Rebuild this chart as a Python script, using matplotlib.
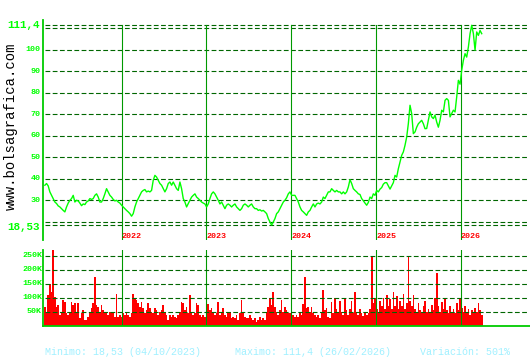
import matplotlib
matplotlib.use("Agg")
import matplotlib.pyplot as plt
import matplotlib.transforms as mtransforms
import pandas as pd
import numpy as np

# ---------------- data ----------------
price = [
    37, 37.8, 36.7, 33.9, 32.3, 30.8, 29.2, 28.5, 27.4, 26.9, 26.1, 25.3, 24.6, 26.9, 28.7, 30,
    30.8, 32.3, 29.2, 30, 29.7, 28.7, 27.5, 28.3, 28, 29.2, 29.7, 30.8, 30.4, 30.8, 32.3, 33,
    31.5, 29.2, 29.2, 30.8, 33, 35.4, 33.9, 32.3, 31.5, 30.4, 29.7, 30, 29.2, 28.7, 27.7, 26.9,
    26.1, 25.3, 24.6, 23.8, 22.6, 23.8, 26.9, 29.2, 30.8, 32.3, 33.9, 34.6, 35, 33.9, 34.3, 33.9,
    34.6, 39.3, 41.6, 40.8, 39.3, 37.8, 37, 35.4, 33.9, 35.4, 37.8, 38.5, 37, 38.5, 37, 35.4,
    34.6, 38.5, 35.4, 30.8, 29.2, 26.9, 28.5, 30, 31.5, 32.3, 33, 31.5, 30.8, 30, 29.2, 28.7,
    28.3, 26.9, 28.3, 30.8, 33, 33.9, 33, 31.5, 30, 28.3, 29.2, 27.7, 26.1, 27.7, 28.3, 27.7,
    26.9, 27.7, 28.3, 26.9, 26.1, 25.3, 26.1, 27.7, 28.3, 27.7, 26.9, 27.7, 28.3, 26.9, 26.1,
    26.1, 25.3, 25.6, 25, 25.3, 24.6, 23.8, 21.5, 19.9, 18.53, 19.9, 21.5, 23.8, 24.6, 26.1, 27.7,
    29.2, 30, 31.2, 33, 33.9, 32.3, 32.3, 32.3, 30.8, 29.2, 26.9, 25.3, 24.6, 23.8, 23, 24.6,
    25.3, 26.9, 28.3, 26.9, 28.3, 28.7, 28.3, 29.2, 31.5, 30.8, 32.3, 33.9, 33.9, 35.4, 34.6, 33.9,
    34.6, 33.9, 33.9, 33, 33.9, 33, 33.9, 36.2, 39.6, 37.8, 35.4, 34.6, 33.9, 33, 32.7,
    30.8, 29.8, 28.7, 27.7, 29, 31.5, 30.8, 33, 32.3, 34.6, 33.9, 35.2, 35.9, 37.5, 38.2, 38.2,
    36.7, 35.2, 36.7, 38.2, 41.6, 40.8, 44.7, 47.7, 50.9, 52.5, 55.6, 59.4, 65.7, 74.2, 70.3, 61,
    61.8, 64, 65.6, 66.4, 67.2, 65.6, 63.3,
    63.4, 67.2, 71.1, 68.8, 68, 69.6, 66.4, 64, 67.2, 71.9, 71.1, 76.5, 77.3, 76.5, 68.8, 70.3,
    71.9, 71.1, 78.1, 85.8, 84, 90.5, 95.1, 98.2, 96.6, 101.3, 107.5, 111.4, 107.5, 99.8, 108.3,
    106.7, 109, 107.5,
]

volume_k = [
    68, 50, 110, 149, 121, 270, 104, 68, 74, 38, 50, 92, 86, 44, 38, 50, 86, 74, 80, 50, 80, 26,
    44, 56, 20, 20, 32, 50, 62, 80, 175, 74, 68, 50, 74, 56, 50, 44, 38, 50, 50, 44, 32, 112, 32,
    38, 32, 44, 38, 50, 38, 32, 44, 112, 98, 92, 80, 68, 86, 62, 44, 56, 80, 62, 50, 44, 62, 56,
    38, 50, 56, 74, 50, 38, 20, 38, 32, 38, 32, 26, 38, 50, 86, 80, 56, 68, 44, 110,
    50, 38, 44, 80, 74, 38, 32, 38, 32, 74, 76, 56, 62, 50, 38, 44, 86, 38, 50, 62, 38, 32, 44,
    50, 26, 32, 26, 38, 20, 44, 92, 44, 32, 26, 26, 38, 26, 20, 26, 14, 20, 32, 20, 26, 20, 50,
    68, 98, 74, 121, 68, 50, 38, 56, 92, 50, 68, 56, 44, 44, 44, 38, 32, 38, 32, 44, 38, 76, 175,
    62, 68, 50, 68, 44, 38, 32, 38, 26, 44, 127, 56, 62, 32, 26, 86, 44,
    100, 60, 45, 90, 50, 40, 95, 55, 40, 60, 90, 45, 120, 50, 40, 60, 45, 35, 50, 40, 45, 60, 250,
    80, 100, 60, 50, 90, 70, 100, 60, 110, 70, 95, 60, 120, 70, 105, 60, 90, 70, 115, 60, 80, 250,
    90, 70, 110, 60, 50, 80, 55, 45, 70, 90, 50, 60, 45, 75, 55, 100, 190, 70, 50, 85, 60, 100, 55,
    45, 70, 50, 60, 45, 80, 55, 100, 65, 50, 70, 45, 60, 40, 55, 45, 65, 50, 80, 55, 40,
]

start_date, end_date = "2021-02-04", "2026-04-01"
price_ticks = [30, 40, 50, 60, 70, 80, 90, 100]
grid_levels = [20, 30, 40, 50, 60, 70, 80, 90, 100, 110]
min_val, max_val = 18.53, 111.4
min_label, max_label = "18,53", "111,4"
years = [2022, 2023, 2024, 2025, 2026]
vol_ticks = [50000, 100000, 150000, 200000, 250000]
vol_labels = ["50K", "100K", "150K", "200K", "250K"]
footer = ["Minimo: 18,53 (04/10/2023)", "Maximo: 111,4 (26/02/2026)", "Variación: 501%"]

# ---------------- figure ----------------
W, H = 530, 360
fig = plt.figure(figsize=(W / 100, H / 100), dpi=100)
fig.patch.set_facecolor("white")

dates = pd.date_range(start_date, end_date, periods=len(price))
step_days = (dates[1] - dates[0]).total_seconds() / 86400.0
volume = np.array(volume_k) * 1000.0

BRIGHT = "#00ff00"
AXGREEN = "#00cc00"
YEARGREEN = "#009900"
DASH = "#006600"
MONO = "Liberation Mono"
dash_style = (0, (4.3, 2.2))

xmin_date = pd.Timestamp("2021-01-27")
xmax_date = pd.Timestamp("2026-10-26")

ax = fig.add_axes([43 / W, 1 - 240 / H, (W - 43) / W, 220 / H])
axv = fig.add_axes([43 / W, 1 - 326 / H, (W - 43) / W, 76 / H])
for a in (ax, axv):
    a.set_facecolor("none")
    for s in a.spines.values():
        s.set_visible(False)
    a.set_xticks([])
    a.set_yticks([])
    a.set_xlim(xmin_date, xmax_date)

ax.set_ylim(11.53, 113.86)
axv.set_ylim(-1000, 270400)

xf0, xf1 = (45 - 43) / (W - 43), (528 - 43) / (W - 43)

# main panel grid
for lv in grid_levels + [min_val, max_val]:
    ax.axhline(lv, xmin=xf0, xmax=xf1, color=DASH, lw=0.8, ls=dash_style)

# year lines + labels
ytop = (240 - 25) / 220
for y in years:
    d = pd.Timestamp(f"{y}-01-01")
    ax.axvline(d, ymin=0, ymax=ytop, color=YEARGREEN, lw=0.8)
    axv.axvline(d, color=YEARGREEN, lw=0.8)
    ax.text(d, 13.2, str(y), color="red", fontsize=6, fontweight="bold",
            family=MONO, ha="left", va="center")

# left axis lines
ax.plot([0, 0], [0, 1], transform=ax.transAxes, color=AXGREEN, lw=1.3, clip_on=False)
axv.plot([0, 0], [0, 1], transform=axv.transAxes, color=AXGREEN, lw=1.3, clip_on=False)
axv.plot([0, 1], [0, 0], transform=axv.transAxes, color=AXGREEN, lw=1.3, clip_on=False)

# price line
ax.plot(dates, price, color=BRIGHT, lw=1.0)

# price labels
tr = mtransforms.blended_transform_factory(fig.transFigure, ax.transData)
for t in price_ticks:
    ax.text(40.5 / W, t, str(t), transform=tr, color=BRIGHT, fontsize=6,
            fontweight="bold", family=MONO, ha="right", va="center")
ax.text(40 / W, max_val, max_label, transform=tr, color=BRIGHT, fontsize=7.8,
        fontweight="bold", family=MONO, ha="right", va="center")
ax.text(40 / W, min_val - 0.9, min_label, transform=tr, color=BRIGHT, fontsize=7.8,
        fontweight="bold", family=MONO, ha="right", va="center")

# volume
for lv in vol_ticks:
    axv.axhline(lv, xmin=xf0, xmax=xf1, color=DASH, lw=0.8, ls=dash_style)
axv.bar(dates, volume, width=step_days, color="#ff0000", linewidth=0, align="center")
trv = mtransforms.blended_transform_factory(fig.transFigure, axv.transData)
for v, lab in zip(vol_ticks, vol_labels):
    axv.text(42 / W, v, lab, transform=trv, color=BRIGHT, fontsize=6,
             fontweight="bold", family=MONO, ha="right", va="center")

# watermark
fig.text(11 / W, 1 - 126 / H, "www.bolsagrafica.com", rotation=90, color="black",
         fontsize=10, family=MONO, ha="center", va="center")

# footer
FOOT = "#a0f0ff"
for xpix, txt in zip([45, 235, 420], footer):
    fig.text(xpix / W, 1 - 352 / H, txt, color=FOOT, fontsize=7.2, family=MONO,
             ha="left", va="center")

fig.savefig("out.png", dpi=100, facecolor="white")
